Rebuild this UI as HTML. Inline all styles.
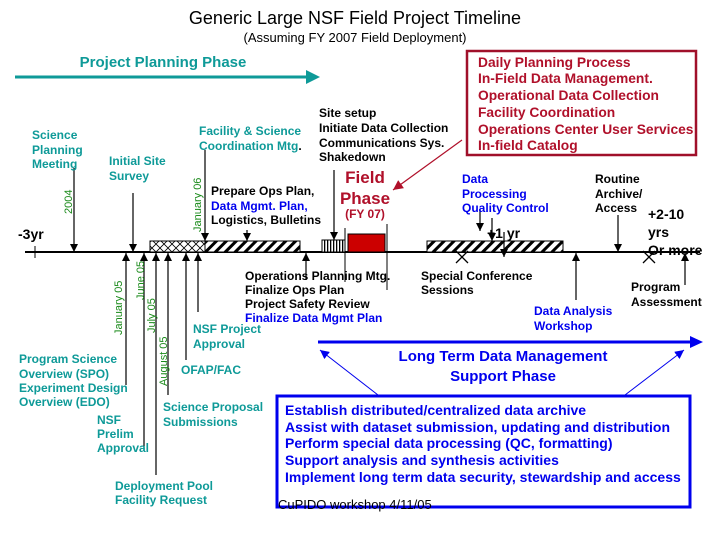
<!DOCTYPE html>
<html><head><meta charset="utf-8"><style>
body{margin:0;background:#fff}
svg text{font-family:"Liberation Sans",Arial,sans-serif}
.b{font-weight:bold;font-size:12px}
.t{fill:#0e9a98}.k{fill:#000}.u{fill:#0000ee}.r{fill:#b0102a}.g{fill:#1a8a1a;font-size:11px}
</style></head><body>
<svg width="720" height="540" viewBox="0 0 720 540" xmlns="http://www.w3.org/2000/svg">
<defs>
<marker id="ah" viewBox="0 0 10 10" refX="10" refY="5" markerWidth="8" markerHeight="8" markerUnits="userSpaceOnUse" orient="auto"><path d="M0,0L10,5L0,10z" fill="#000"/></marker>
<marker id="ahr" viewBox="0 0 10 10" refX="10" refY="5" markerWidth="10" markerHeight="10" markerUnits="userSpaceOnUse" orient="auto"><path d="M0,0L10,5L0,10z" fill="#b0102a"/></marker>
<marker id="ahb" viewBox="0 0 10 10" refX="10" refY="5" markerWidth="9" markerHeight="9" markerUnits="userSpaceOnUse" orient="auto"><path d="M0,0L10,5L0,10z" fill="#0000ee"/></marker>
<pattern id="diag" width="7" height="7" patternUnits="userSpaceOnUse" patternTransform="rotate(45)"><rect width="7" height="7" fill="#fff"/><rect width="3" height="7" fill="#000"/></pattern>
<pattern id="cross" width="8" height="8" patternUnits="userSpaceOnUse"><rect width="8" height="8" fill="#fff"/><path d="M0,0L8,8M8,0L0,8" stroke="#000" stroke-width="0.8"/></pattern>
<pattern id="vert" width="3" height="3" patternUnits="userSpaceOnUse"><rect width="3" height="3" fill="#fff"/><rect width="1.3" height="3" fill="#000"/></pattern>
</defs>

<text x="355" y="24" text-anchor="middle" font-size="18">Generic Large NSF Field Project Timeline</text>
<text x="355" y="42" text-anchor="middle" font-size="13">(Assuming FY 2007 Field Deployment)</text>

<text x="163" y="67" text-anchor="middle" class="t" font-size="15" font-weight="bold">Project Planning  Phase</text>
<line x1="15" y1="77" x2="308" y2="77" stroke="#0e9a98" stroke-width="3"/>
<path d="M306,70L320,77L306,84z" fill="#0e9a98"/>

<rect x="467" y="51" width="229" height="104" fill="#fff" stroke="#a0102a" stroke-width="2.5"/>
<g class="b r" style="font-size:13.8px">
<text x="478" y="67">Daily Planning Process</text>
<text x="478" y="83">In-Field Data Management.</text>
<text x="478" y="100">Operational Data Collection</text>
<text x="478" y="117">Facility Coordination</text>
<text x="478" y="134">Operations Center User Services</text>
<text x="478" y="150">In-field Catalog</text>
</g>
<line x1="462" y1="140" x2="393" y2="190" stroke="#b0102a" stroke-width="1.2" marker-end="url(#ahr)"/>

<line x1="25" y1="252" x2="700" y2="252" stroke="#000" stroke-width="2"/>
<line x1="35" y1="246" x2="35" y2="258" stroke="#000"/>
<text x="18" y="239" font-size="14" font-weight="bold">-3yr</text>
<rect x="150" y="241" width="55" height="11" fill="url(#cross)" stroke="#000"/>
<rect x="205" y="241" width="95" height="11" fill="url(#diag)" stroke="#000"/>
<rect x="322" y="240" width="23" height="12" fill="url(#vert)" stroke="#000"/>
<rect x="348" y="234" width="37" height="18" fill="#cc0000" stroke="#000"/>
<line x1="345" y1="228" x2="345" y2="282" stroke="#000"/>
<line x1="387" y1="224" x2="387" y2="290" stroke="#000"/>
<rect x="427" y="241" width="136" height="11" fill="url(#diag)" stroke="#000"/>
<path d="M456,251l12,12M468,251l-12,12M643,251l12,12M655,251l-12,12" stroke="#000" stroke-width="1.3"/>

<g stroke="#000" stroke-width="1.2" marker-end="url(#ah)">
<line x1="74" y1="168" x2="74" y2="252"/>
<line x1="133" y1="193" x2="133" y2="252"/>
<line x1="205" y1="150" x2="205" y2="241"/>
<line x1="247" y1="230" x2="247" y2="241"/>
<line x1="334" y1="170" x2="334" y2="240"/>
<line x1="480" y1="210" x2="480" y2="231"/>
<line x1="492" y1="218" x2="492" y2="241"/>
<line x1="504" y1="232" x2="504" y2="257"/>
<line x1="618" y1="215" x2="618" y2="252"/>
<line x1="126" y1="385" x2="126" y2="253"/>
<line x1="144" y1="447" x2="144" y2="253"/>
<line x1="156" y1="475" x2="156" y2="253"/>
<line x1="168" y1="395" x2="168" y2="253"/>
<line x1="186" y1="360" x2="186" y2="253"/>
<line x1="198" y1="312" x2="198" y2="253"/>
<line x1="306" y1="280" x2="306" y2="253"/>
<line x1="576" y1="300" x2="576" y2="253"/>
<line x1="685" y1="285" x2="685" y2="253"/>
</g>

<g class="g">
<text transform="translate(72,214) rotate(-90)">2004</text>
<text transform="translate(122,335) rotate(-90)">January 05</text>
<text transform="translate(144,300) rotate(-90)">June 05</text>
<text transform="translate(155,333) rotate(-90)">July 05</text>
<text transform="translate(167,386) rotate(-90)">August 05</text>
<text transform="translate(201,232) rotate(-90)">January 06</text>
</g>

<g class="b t">
<text x="32" y="139">Science</text><text x="32" y="154">Planning</text><text x="32" y="168">Meeting</text>
<text x="109" y="165">Initial Site</text><text x="109" y="180">Survey</text>
<text x="199" y="135">Facility &amp; Science</text><text x="199" y="150">Coordination Mtg<tspan class="k">.</tspan></text>
<text x="19" y="363">Program Science</text><text x="19" y="378">Overview (SPO)</text><text x="19" y="392">Experiment Design</text><text x="19" y="406">Overview (EDO)</text>
<text x="97" y="424">NSF</text><text x="97" y="438">Prelim</text><text x="97" y="452">Approval</text>
<text x="115" y="490">Deployment Pool</text><text x="115" y="504">Facility Request</text>
<text x="163" y="411">Science Proposal</text><text x="163" y="426">Submissions</text>
<text x="181" y="374">OFAP/FAC</text>
<text x="193" y="333">NSF Project</text><text x="193" y="348">Approval</text>
</g>
<g class="b k">
<text x="211" y="195">Prepare Ops Plan,</text><text x="211" y="210" class="u">Data Mgmt. Plan,</text><text x="211" y="224">Logistics, Bulletins</text>
<text x="319" y="117">Site setup</text><text x="319" y="132">Initiate Data Collection</text><text x="319" y="147">Communications Sys.</text><text x="319" y="161">Shakedown</text>
<text x="245" y="280">Operations Planning  Mtg.</text><text x="245" y="294">Finalize Ops Plan</text><text x="245" y="308">Project Safety Review</text><text x="245" y="322" class="u">Finalize Data Mgmt Plan</text>
<text x="421" y="280">Special Conference</text><text x="421" y="294">Sessions</text>
<text x="595" y="183">Routine</text><text x="595" y="198">Archive/</text><text x="595" y="212">Access</text>
<text x="631" y="291">Program</text><text x="631" y="306">Assessment</text>
</g>
<g class="b u">
<text x="462" y="183">Data</text><text x="462" y="198">Processing</text><text x="462" y="212">Quality Control</text>
<text x="534" y="315">Data Analysis</text><text x="534" y="330">Workshop</text>
</g>
<text x="487" y="238" font-size="14" font-weight="bold">+1 yr</text>
<g font-size="14" font-weight="bold"><text x="648" y="219">+2-10</text><text x="648" y="237">yrs</text><text x="648" y="255">Or more</text></g>
<g class="r" font-weight="bold" text-anchor="middle">
<text x="365" y="183" font-size="17">Field</text><text x="365" y="204" font-size="17">Phase</text><text x="365" y="218" font-size="12">(FY 07)</text>
</g>

<line x1="318" y1="342" x2="692" y2="342" stroke="#0000ee" stroke-width="3"/>
<path d="M690,336L703,342L690,348z" fill="#0000ee"/>
<text x="503" y="361" text-anchor="middle" class="u" font-size="15" font-weight="bold">Long Term Data Management</text>
<text x="503" y="381" text-anchor="middle" class="u" font-size="15" font-weight="bold">Support Phase</text>
<line x1="378" y1="395" x2="320" y2="350" stroke="#0000ee" marker-end="url(#ahb)"/>
<line x1="625" y1="395" x2="684" y2="350" stroke="#0000ee" marker-end="url(#ahb)"/>
<rect x="277" y="396" width="413" height="111" fill="#fff" stroke="#0000ee" stroke-width="3"/>
<g class="b u" style="font-size:14px">
<text x="285" y="415">Establish distributed/centralized data archive</text>
<text x="285" y="432">Assist with dataset submission, updating and distribution</text>
<text x="285" y="448">Perform special data processing (QC, formatting)</text>
<text x="285" y="465">Support analysis and synthesis activities</text>
<text x="285" y="482">Implement long term data security, stewardship and access</text>
</g>
<text x="278" y="509" font-size="13">CuPIDO workshop 4/11/05</text>
</svg>
</body></html>
